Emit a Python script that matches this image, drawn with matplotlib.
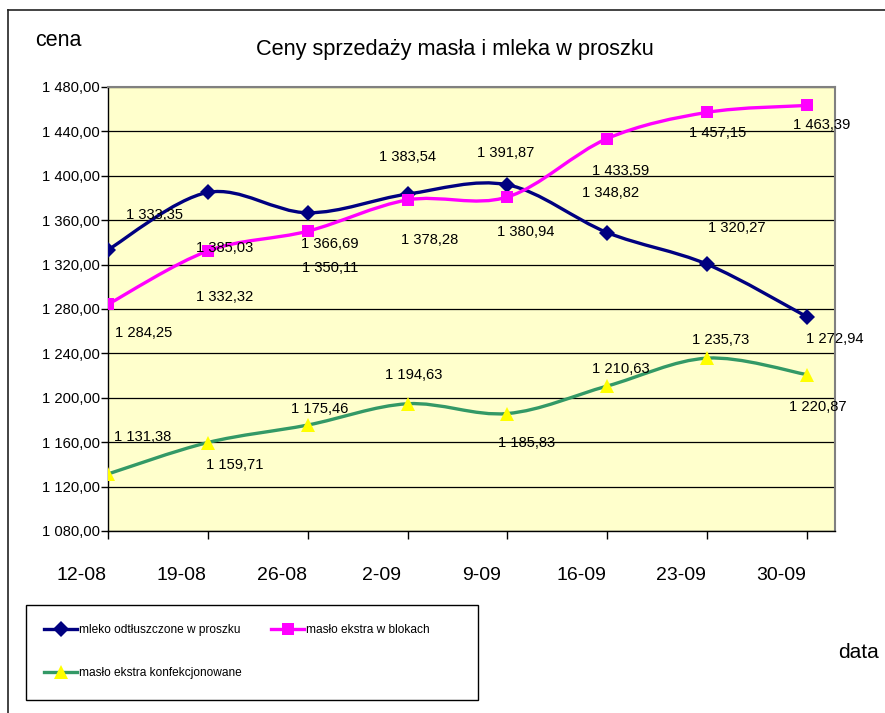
import matplotlib
matplotlib.use("Agg")
import matplotlib.pyplot as plt
import matplotlib.transforms as mtransforms
import numpy as np
from matplotlib.path import Path
from matplotlib.patches import PathPatch, Rectangle
from matplotlib.lines import Line2D

# data
dates = ["12-08", "19-08", "26-08", "2-09", "9-09", "16-09", "23-09", "30-09"]
mleko = [1333.35, 1385.03, 1366.69, 1383.54, 1391.87, 1348.82, 1320.27, 1272.94]
maslo_bloki = [1284.25, 1332.32, 1350.11, 1378.28, 1380.94, 1433.59, 1457.15, 1463.39]
maslo_konf = [1131.38, 1159.71, 1175.46, 1194.63, 1185.83, 1210.63, 1235.73, 1220.87]
names = ["mleko odtłuszczone w proszku", "masło ekstra w blokach",
         "masło ekstra konfekcjonowane"]

# label offsets (pixels) for each data label, as Excel placed them
offs_mleko = [(47, 35), (17, -56), (22, -31), (0, 37), (-2, 32), (3, 40), (30, 36), (28, -22)]
offs_bloki = [(36, -29), (17, -46), (22, -37), (22, -40), (18, -35), (13, -32), (10, -21), (15, -20)]
offs_konf = [(35, 37), (27, -22), (12, 16), (6, 29), (19, -29), (13, 17), (13, 18), (11, -32)]

plt.rcParams["font.family"] = ["Liberation Sans", "DejaVu Sans"]
LBL = 10.6


def fmt(v):
    s = f"{v:,.2f}"
    return s.replace(",", " ").replace(".", ",")


def smooth_path(x, y):
    """Excel-like smoothed line: Catmull-Rom segments as cubic Beziers."""
    p = np.column_stack([x, y]).astype(float)
    pts = [p[0]]
    codes = [Path.MOVETO]
    n = len(p)
    for i in range(n - 1):
        p0 = p[max(i - 1, 0)]
        p1, p2 = p[i], p[i + 1]
        p3 = p[min(i + 2, n - 1)]
        c1 = p1 + (p2 - p0) / 6.0
        c2 = p2 - (p3 - p1) / 6.0
        pts += [c1, c2, p2]
        codes += [Path.CURVE4] * 3
    return Path(pts, codes)


fig = plt.figure(figsize=(8.85, 7.13), dpi=100)
ax = fig.add_axes([108 / 885, 1 - 531 / 713, 727 / 885, 444 / 713])
ax.set_facecolor("#ffffcc")

x = np.arange(len(dates))
series = [
    (mleko, "#000080", "D", "#000080", 8, offs_mleko),
    (maslo_bloki, "#ff00ff", "s", "#ff00ff", 8.5, offs_bloki),
    (maslo_konf, "#339966", "^", "#ffff00", 10, offs_konf),
]
handles = []
for vals, col, mk, mcol, ms, offs in series:
    ax.add_patch(PathPatch(smooth_path(x, vals), facecolor="none", edgecolor=col,
                           lw=2.4, zorder=3, capstyle="round", joinstyle="round"))
    ax.plot(x, vals, ls="none", marker=mk, color=mcol, markersize=ms,
            markeredgewidth=0, zorder=4)
    handles.append(Line2D([0], [0], color=col, lw=2.4, marker=mk, markersize=ms,
                          markerfacecolor=mcol, markeredgewidth=0))
    for xi, v, (dx, dy) in zip(x, vals, offs):
        ax.annotate(fmt(v), (xi, v), xytext=(dx, dy), textcoords="offset pixels",
                    ha="center", va="center", fontsize=LBL, zorder=5)

ax.set_xlim(0, 7.28)
ax.set_ylim(1080, 1480)
yt = np.arange(1080, 1481, 40)
ax.set_yticks(yt)
ax.set_yticklabels([fmt(v) for v in yt], fontsize=LBL)
ax.set_xticks(x)
ax.set_xticklabels(dates, fontsize=14)
ax.tick_params(axis="y", length=5, width=1, pad=1, color="black")
ax.tick_params(axis="x", length=6, width=1, pad=20, color="black")
# Excel drew the category labels a bit left of their ticks
shift = mtransforms.ScaledTranslation(-26 / 100, 0, fig.dpi_scale_trans)
for t in ax.get_xticklabels():
    t.set_transform(t.get_transform() + shift)
ax.grid(axis="y", color="black", lw=0.9)
ax.set_axisbelow(True)
for s in ("top", "right"):
    ax.spines[s].set_color("#808080")
    ax.spines[s].set_linewidth(1.5)
for s in ("left", "bottom"):
    ax.spines[s].set_color("black")
    ax.spines[s].set_linewidth(1)

fig.text(455 / 885, 1 - 50 / 713, "Ceny sprzedaży masła i mleka w proszku",
         ha="center", va="center", fontsize=15.7)
fig.text(35 / 885, 1 - 40 / 713, "cena", ha="left", va="center", fontsize=15.5)
fig.text(838 / 885, 1 - 653 / 713, "data", ha="left", va="center", fontsize=15)

# legend: box plus two columns of entries
fig.add_artist(Rectangle((26 / 885, 1 - 700 / 713), 452 / 885, 95 / 713,
                         transform=fig.transFigure, facecolor="none",
                         edgecolor="black", lw=1))
leg_kw = dict(frameon=False, fontsize=8.6, handlelength=2.8, handletextpad=0.15,
              borderpad=0, borderaxespad=0, labelspacing=2.6)
fig.legend([handles[0], handles[2]], [names[0], names[2]], loc="center left",
           bbox_to_anchor=(44 / 885, 1 - 651.5 / 713), **leg_kw)
fig.legend([handles[1]], [names[1]], loc="center left",
           bbox_to_anchor=(271 / 885, 1 - 630 / 713), **leg_kw)

# chart-area border (top and left edges visible in the reference)
fig.add_artist(Line2D([8 / 885, 1], [1 - 10 / 713] * 2, color="#222222", lw=1.2))
fig.add_artist(Line2D([8 / 885] * 2, [0, 1 - 10 / 713], color="#222222", lw=1.2))

fig.savefig("out.png", dpi=100)
